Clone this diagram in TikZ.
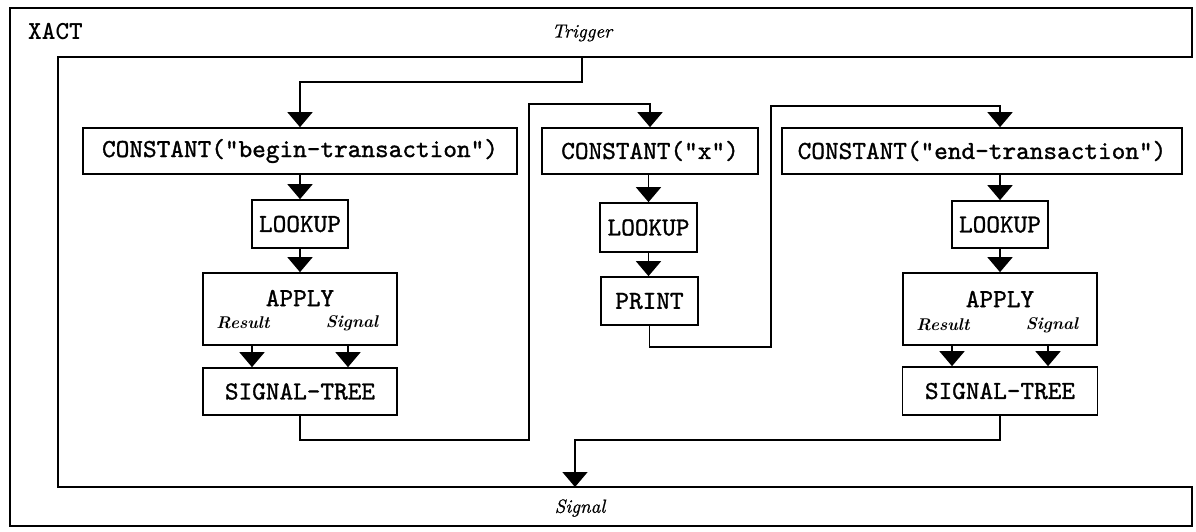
\documentclass[tikz,border=0pt]{standalone}
\usepackage{fontspec}
\usetikzlibrary{arrows.meta,calc}
\newfontfamily\ttheavy{lmmono10-regular.otf}[FakeBold=1.2]
\newfontfamily\itheavy{lmroman10-italic.otf}[FakeBold=0.8]
\newcommand\ttfm{\fontsize{26}{30}\selectfont\ttheavy}
\tikzset{
  wire/.style={line width=1.7pt},
  box/.style={draw, line width=1.7pt, inner sep=0pt, font=\ttfm},
  arr/.style={line width=1.7pt, -{Triangle[width=25pt,length=15pt]}},
  lab/.style={font=\fontsize{19}{22}\selectfont\itheavy, inner sep=0pt},
  plab/.style={font=\fontsize{17}{20}\selectfont\bfseries\itshape, inner sep=0pt},
}
\begin{document}
\begin{tikzpicture}[x=1pt,y=-1pt]
\useasboundingbox (0,0) rectangle (1196,531);
% outer frame
\draw[wire] (10,8) -- (1192,8) -- (1192,57) -- (58,57) -- (58,487) -- (1192,487) -- (1192,526) -- (10,526) -- cycle;
\node[anchor=base west, font=\fontsize{26}{30}\selectfont\ttfamily\bfseries, inner sep=0pt] (xact) at (28,39) {XACT};
\node[lab] (trigger) at (582,33) {Trigger};
\node[lab] (signal) at (580,508) {Signal};

% chain 1
\node[box, minimum width=434pt, minimum height=46pt] (c1) at (300,151) {CONSTANT("begin-transaction")};
\node[box, minimum width=96pt, minimum height=48pt] (l1) at (300,224) {LOOKUP};
\node[box, minimum width=194pt, minimum height=72pt] (a1) at (300,309) {};
\node[font=\ttfm, inner sep=0pt] (a1t) at (300,298) {APPLY};
\node[plab] (a1r) at (243,323) {Result};
\node[plab] (a1s) at (352,323) {Signal};
\node[box, minimum width=194pt, minimum height=47pt] (s1) at (300,391.5) {SIGNAL-TREE};

% chain 2
\node[box, minimum width=216pt, minimum height=46pt] (c2) at (650,151) {CONSTANT("x")};
\node[box, minimum width=97pt, minimum height=49pt] (l2) at (648.5,227.5) {LOOKUP};
\node[box, minimum width=97pt, minimum height=48pt] (p2) at (649.5,301) {PRINT};

% chain 3
\node[box, minimum width=400pt, minimum height=46pt] (c3) at (982,151) {CONSTANT("end-transaction")};
\node[box, minimum width=96pt, minimum height=47pt] (l3) at (1000,224.5) {LOOKUP};
\node[box, minimum width=194pt, minimum height=72pt] (a3) at (1000,309) {};
\node[font=\ttfm, inner sep=0pt] (a3t) at (1000,299) {APPLY};
\node[plab] (a3r) at (943,325) {Result};
\node[plab] (a3s) at (1052,325) {Signal};
\node[box, minimum width=195pt, minimum height=48pt] (s3) at (1000,391) {SIGNAL-TREE};

% coordinates
\coordinate (trig) at (582,57);
\coordinate (t1) at (582,82);
\coordinate (j1) at (529,440);
\coordinate (u1) at (529,104);
\coordinate (j2) at (771,347);
\coordinate (u2) at (771,106);
\coordinate (j3) at (575,440);
\coordinate (sig) at (575,487);

% connectors
\draw[arr] (trig) -- (t1) -| (c1.north);
\draw[arr] (c1) -- (l1);
\draw[arr] (l1) -- (a1);
\draw[arr] ([xshift=-48pt]a1.south) -- ([xshift=-48pt]s1.north);
\draw[arr] ([xshift=48pt]a1.south) -- ([xshift=48pt]s1.north);
\draw[arr] (s1.south) |- (j1) -- (u1) -| (c2.north);
\draw[arr] (l2 |- c2.south) -- (l2.north);
\draw[arr] (l2.south) -- (l2.south |- p2.north);
\draw[arr] (p2.south) |- (j2) -- (u2) -| (l3 |- c3.north);
\draw[arr] (l3 |- c3.south) -- (l3.north);
\draw[arr] (l3) -- (a3);
\draw[arr] ([xshift=-48pt]a3.south) -- ([xshift=-48pt]s3.north);
\draw[arr] ([xshift=48pt]a3.south) -- ([xshift=48pt]s3.north);
\draw[arr] (s3.south) |- (j3) -- (sig);
\end{tikzpicture}
\end{document}
